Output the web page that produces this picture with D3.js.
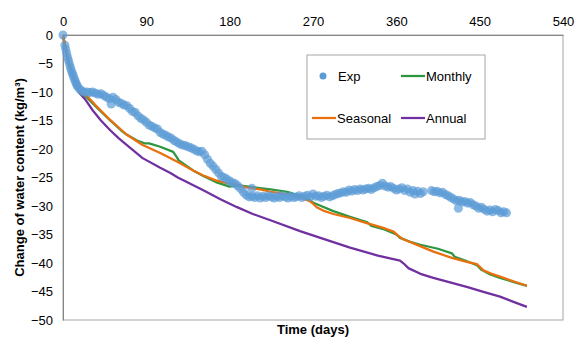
<!DOCTYPE html>
<html>
<head>
<meta charset="utf-8">
<script src="https://cdn.jsdelivr.net/npm/d3@7"></script>
<style>
  body { margin: 0; background: #fff; }
  text { font-family: "Liberation Sans", Arial, sans-serif; fill: #000; }
</style>
</head>
<body>
<svg id="chart" width="584" height="340"></svg>
<script>
// [day, change of water content]
const exp = [
  [0,0],[2,-1.8],[3,-2.5],[4,-3.2],[5,-3.9],[6,-4.5],[7,-5.1],[8,-5.7],[9,-6.2],[10,-6.7],
  [11,-7.1],[12,-7.6],[13,-8.0],[14,-8.4],[15,-8.8],[16,-9.1],[18,-9.5],[20,-9.8],[23,-10.0],
  [26,-10.0],[29,-10.1],[32,-10.0],[35,-10.2],[38,-10.4],[41,-10.3],[44,-10.6],[47,-10.9],
  [50,-11.2],[52,-12.1],[54,-10.9],[57,-11.3],[60,-11.8],[63,-12.0],[66,-12.3],[69,-12.4],
  [72,-12.9],[75,-13.4],[78,-13.6],[81,-14.2],[84,-14.6],[87,-14.9],[90,-15.3],[93,-15.8],
  [96,-16.0],[99,-16.3],[102,-16.5],[105,-17.1],[108,-17.4],[111,-17.6],[114,-17.9],[117,-18.1],
  [120,-18.5],[123,-18.8],[126,-19.1],[129,-19.3],[132,-19.4],[135,-19.6],[138,-19.8],[141,-20.0],
  [144,-20.3],[147,-20.5],[150,-20.4],[153,-21.0],[156,-21.8],[159,-22.5],[162,-23.0],[165,-23.6],
  [168,-24.2],[171,-24.8],[174,-25.0],[177,-25.3],[180,-25.6],[183,-25.9],[186,-26.1],[189,-26.5],
  [192,-27.0],[195,-27.6],[198,-28.1],[201,-28.4],[204,-26.9],[204,-28.3],[207,-28.5],[210,-28.2],
  [213,-28.6],[216,-28.3],[219,-28.5],[222,-28.2],[225,-28.4],[228,-28.6],[231,-28.3],[234,-28.5],
  [237,-28.2],[240,-28.4],[243,-28.6],[246,-28.3],[249,-28.5],[252,-28.4],[255,-28.2],[258,-28.5],
  [261,-28.3],[264,-28.1],[267,-28.4],[270,-27.9],[273,-28.3],[276,-28.2],[279,-28.5],[282,-28.3],
  [285,-28.1],[288,-28.4],[291,-28.2],[294,-28.0],[297,-27.8],[300,-27.7],[303,-27.5],[306,-27.6],
  [309,-27.2],[312,-27.4],[315,-27.1],[318,-27.3],[321,-27.0],[324,-27.2],[327,-27.0],[330,-26.9],
  [333,-27.1],[336,-26.8],[339,-26.6],[342,-26.4],[345,-26.0],[348,-26.5],[351,-26.7],[354,-26.6],
  [357,-26.9],[360,-27.2],[363,-27.0],[366,-26.8],[369,-27.3],[372,-27.0],[375,-27.6],[378,-27.3],
  [380,-27.9],[383,-27.4],[386,-27.8],[389,-27.5],[398,-27.3],[401,-27.5],[404,-27.4],[407,-27.7],
  [410,-27.6],[413,-28.0],[416,-28.2],[419,-28.5],[422,-28.8],[425,-29.1],[427,-30.4],[428,-29.0],
  [431,-29.3],[434,-29.2],[437,-29.5],[440,-29.4],[443,-29.8],[446,-30.0],[449,-30.4],[452,-30.2],
  [455,-30.6],[458,-30.9],[461,-30.7],[464,-31.0],[467,-30.6],[470,-30.8],[473,-31.2],[476,-31.0],
  [479,-31.2]
];

const monthly = [
  [0,0],[3,-2.5],[6,-4.8],[10,-7],[14,-8.7],[18,-10],[26,-11.0],[35,-12.5],[51,-15.0],[64,-16.9],
  [69,-17.5],[80,-18.5],[88,-19.0],[93,-19.0],[105,-19.6],[119,-20.5],[122,-21.2],[125,-22.0],
  [141,-23.8],[151,-24.7],[165,-25.8],[180,-26.6],[190,-26.4],[205,-26.7],[224,-27.1],[242,-27.5],
  [258,-28.3],[266,-28.9],[270,-29.4],[280,-30.1],[292,-30.9],[310,-31.9],[328,-32.8],[333,-33.5],
  [345,-34.0],[360,-35.0],[364,-35.6],[375,-36.3],[386,-36.8],[405,-37.5],[420,-38.3],[423,-38.9],
  [435,-39.6],[447,-40.4],[452,-41.2],[460,-41.9],[472,-42.6],[488,-43.4],[501,-44.0]
];

const seasonal = [
  [0,0],[3,-2.5],[6,-4.8],[10,-7],[14,-8.7],[18,-10],[26,-10.7],[35,-12.3],[51,-14.9],[64,-16.8],
  [69,-17.5],[86,-19.3],[105,-20.7],[124,-22.3],[141,-23.8],[151,-24.6],[165,-25.5],[177,-26.0],
  [188,-26.3],[200,-26.8],[213,-27.1],[224,-27.5],[242,-27.9],[258,-28.6],[267,-29.2],[270,-29.6],
  [274,-30.2],[281,-30.8],[292,-31.4],[310,-32.1],[328,-33.0],[345,-33.8],[357,-34.5],[362,-35.2],
  [367,-35.8],[385,-37.0],[400,-38.0],[420,-39.1],[436,-39.8],[447,-40.2],[451,-40.8],[454,-41.3],
  [463,-41.9],[472,-42.4],[488,-43.3],[501,-44.0]
];

const annual = [
  [0,0],[3,-2.6],[6,-4.9],[10,-7.1],[14,-8.9],[18,-10.2],[24,-11.3],[32,-13.2],[41,-15.0],[51,-16.7],
  [60,-18.1],[69,-19.3],[86,-21.6],[105,-23.3],[116,-24.2],[124,-25.0],[151,-27.2],[170,-28.8],
  [188,-30.2],[205,-31.4],[224,-32.5],[256,-34.4],[278,-35.6],[310,-37.3],[340,-38.7],[364,-39.6],
  [368,-40.1],[373,-40.9],[386,-41.9],[400,-42.6],[418,-43.4],[436,-44.2],[455,-45.1],[472,-45.9],
  [488,-46.9],[501,-47.7]
];

const xTicks = [0, 90, 180, 270, 360, 450, 540];
const yTicks = [0, -5, -10, -15, -20, -25, -30, -35, -40, -45, -50];

const colors = { exp: "#5b9bd5", monthly: "#2e9640", seasonal: "#e8700e", annual: "#7030a0" };

const marginLeft = 63, marginTop = 35;
const width = 500, height = 285;

const svg = d3.select("#chart");
const g = svg.append("g").attr("transform", "translate(" + marginLeft + "," + marginTop + ")");

const x = d3.scaleLinear().domain([0, 540]).range([0, width]);
const y = d3.scaleLinear().domain([0, -50]).range([0, height]);

// plot frame
g.append("rect")
  .attr("x", 0).attr("y", 0)
  .attr("width", width).attr("height", height)
  .attr("fill", "none")
  .attr("stroke", "#a6a6a6")
  .attr("stroke-width", 1);

// top axis
const xAxis = g.append("g")
  .call(d3.axisTop(x).tickValues(xTicks).tickSize(0).tickPadding(9));
xAxis.select(".domain").attr("stroke", "#868686");
xAxis.selectAll("text").style("font-size", "13px").style("font-family", "Liberation Sans, Arial, sans-serif");

// left axis
const yAxis = g.append("g")
  .call(d3.axisLeft(y).tickValues(yTicks).tickSize(0).tickPadding(10).tickFormat(d3.format("d")));
yAxis.select(".domain").attr("stroke", "#868686");
yAxis.selectAll("text").style("font-size", "13px").style("font-family", "Liberation Sans, Arial, sans-serif");

// lines
const line = d3.line().x(d => x(d[0])).y(d => y(d[1]));

[["annual", annual], ["monthly", monthly], ["seasonal", seasonal]].forEach(([k, data]) => {
  g.append("path")
    .datum(data)
    .attr("d", line)
    .attr("fill", "none")
    .attr("stroke", colors[k])
    .attr("stroke-width", 2.25)
    .attr("stroke-linejoin", "round");
});

// measured points
g.append("g").selectAll("circle")
  .data(exp)
  .join("circle")
  .attr("cx", d => x(d[0]))
  .attr("cy", d => y(d[1]))
  .attr("r", 4.5)
  .attr("fill", colors.exp)
  .attr("fill-opacity", 0.7);

// legend
const legend = svg.append("g");
legend.append("rect")
  .attr("x", 307).attr("y", 55).attr("width", 178).attr("height", 84)
  .attr("fill", "#fff").attr("stroke", "#a6a6a6");

legend.append("circle").attr("cx", 323).attr("cy", 76).attr("r", 3.5).attr("fill", colors.exp);
legend.append("text").attr("x", 338).attr("y", 81).style("font-size", "13px").text("Exp");

legend.append("line").attr("x1", 401).attr("x2", 425).attr("y1", 76).attr("y2", 76)
  .attr("stroke", colors.monthly).attr("stroke-width", 2.25);
legend.append("text").attr("x", 426).attr("y", 81).style("font-size", "13px").text("Monthly");

legend.append("line").attr("x1", 312).attr("x2", 336).attr("y1", 118).attr("y2", 118)
  .attr("stroke", colors.seasonal).attr("stroke-width", 2.25);
legend.append("text").attr("x", 337).attr("y", 123).style("font-size", "13px").text("Seasonal");

legend.append("line").attr("x1", 401).attr("x2", 425).attr("y1", 118).attr("y2", 118)
  .attr("stroke", colors.annual).attr("stroke-width", 2.25);
legend.append("text").attr("x", 426).attr("y", 123).style("font-size", "13px").text("Annual");

// axis titles
svg.append("text")
  .attr("x", marginLeft + width / 2).attr("y", 334)
  .attr("text-anchor", "middle")
  .style("font-size", "13px").style("font-weight", "bold")
  .text("Time (days)");

svg.append("text")
  .attr("transform", "translate(24," + (marginTop + height / 2) + ")rotate(-90)")
  .attr("text-anchor", "middle")
  .style("font-size", "13px").style("font-weight", "bold")
  .text("Change of water content (kg/m³)");
</script>
</body>
</html>
